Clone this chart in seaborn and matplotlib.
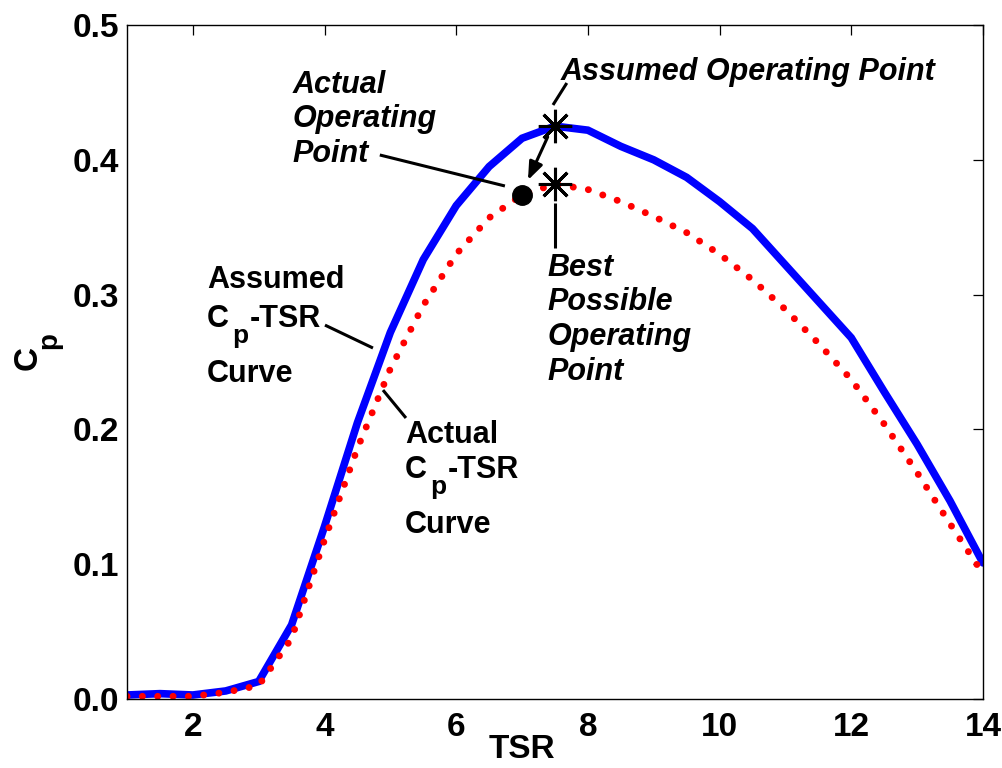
"""
Cp-TSR curves: assumed vs actual, with operating points marked.
"""
import matplotlib
matplotlib.use("Agg")
import matplotlib.pyplot as plt
import seaborn as sns

# data
tsr = [1.0, 1.5, 2.0, 2.5, 3.0, 3.5, 4.0, 4.5, 5.0, 5.5, 6.0, 6.5, 7.0, 7.5,
       8.0, 8.5, 9.0, 9.5, 10.0, 10.5, 11.0, 11.5, 12.0, 12.5, 13.0, 13.5, 14.0]
cp_assumed = [0.003, 0.004, 0.003, 0.006, 0.013, 0.055, 0.128, 0.205, 0.272,
              0.326, 0.366, 0.395, 0.416, 0.425, 0.422, 0.410, 0.400, 0.387,
              0.369, 0.349, 0.322, 0.295, 0.268, 0.228, 0.189, 0.147, 0.101]
cp_actual = [0.002, 0.002, 0.002, 0.005, 0.010, 0.045, 0.118, 0.186, 0.245,
             0.292, 0.330, 0.357, 0.374, 0.382, 0.378, 0.369, 0.358, 0.346,
             0.330, 0.311, 0.289, 0.264, 0.237, 0.204, 0.168, 0.130, 0.093]

star_tsr = [7.5, 7.5]
star_cp = [0.425, 0.382]
actual_op_tsr = [7.0]
actual_op_cp = [0.374]

sns.set_theme(style="white")
plt.rcParams["font.family"] = ["Liberation Sans", "DejaVu Sans"]
plt.rcParams["font.weight"] = "bold"
plt.rcParams["text.color"] = "black"
plt.rcParams["axes.labelcolor"] = "black"

fig = plt.figure(figsize=(10.03, 7.68), dpi=100)
ax = fig.add_axes([0.1266, 0.0898, 0.8534, 0.8776])

sns.lineplot(x=tsr, y=cp_assumed, ax=ax, color="#0000ff", linewidth=5.5,
             solid_joinstyle="miter")
sns.lineplot(x=tsr, y=cp_actual, ax=ax, color="#ff0000", linewidth=5,
             linestyle=(0, (0.01, 2.2)), dash_capstyle="round")

# operating points
ax.plot(star_tsr, star_cp, ls="none", marker=(8, 2, 0), markersize=24,
        markeredgewidth=2.2, color="black", zorder=5)
ax.plot(actual_op_tsr, actual_op_cp, ls="none", marker="o", markersize=14,
        color="black", zorder=5)

ax.set_xlim(1, 14)
ax.set_ylim(0, 0.5)
ax.set_xticks([2, 4, 6, 8, 10, 12, 14])
ax.set_yticks([0.0, 0.1, 0.2, 0.3, 0.4, 0.5])
ax.set_yticklabels(["0.0", "0.1", "0.2", "0.3", "0.4", "0.5"])
ax.tick_params(direction="in", length=7, width=0.9, top=True, right=True,
               labelsize=24, pad=6, colors="black")
ax.tick_params(axis="x", pad=9)
for lab in ax.get_xticklabels() + ax.get_yticklabels():
    lab.set_fontweight("bold")
for s in ax.spines.values():
    s.set_color("black")
    s.set_linewidth(1.0)

ax.set_xlabel("TSR", fontsize=24, fontweight="bold")
ax.xaxis.set_label_coords(0.461, -0.052)
# y label C_p, built by hand so the subscript sits low like the original
fig.text(37 / 1003, 1 - 370 / 768, "C", fontsize=24, fontweight="bold",
         rotation=90, rotation_mode="anchor", ha="left", va="baseline")
fig.text(56 / 1003, 1 - 349 / 768, "p", fontsize=20, fontweight="bold",
         rotation=90, rotation_mode="anchor", ha="left", va="baseline")

fs = 22
ital = dict(fontsize=fs, fontweight="bold", style="italic")
ax.text(7.58, 0.459, "Assumed Operating Point", va="baseline", **ital)
ax.text(3.52, 0.467, "Actual\nOperating\nPoint", va="top", **ital)
ax.text(7.39, 0.331, "Best\nPossible\nOperating\nPoint", va="top", **ital)

bold = dict(fontsize=fs, fontweight="bold", va="baseline", ha="left")
sub = dict(fontsize=19, fontweight="bold", va="baseline", ha="left")
# assumed Cp-TSR curve label
ax.text(2.215, 0.3049, "Assumed", **bold)
ax.text(2.215, 0.2760, "C", **bold)
ax.text(2.595, 0.2641, "p", **sub)
ax.text(2.868, 0.2760, "-TSR", **bold)
ax.text(2.215, 0.2352, "Curve", **bold)
# actual Cp-TSR curve label
ax.text(5.222, 0.1899, "Actual", **bold)
ax.text(5.222, 0.1639, "C", **bold)
ax.text(5.601, 0.1521, "p", **sub)
ax.text(5.875, 0.1639, "-TSR", **bold)
ax.text(5.222, 0.1231, "Curve", **bold)

# leader lines
lk = dict(color="black", lw=2.2, solid_capstyle="butt")
ax.plot([4.84, 6.74], [0.4036, 0.3806], **lk)
ax.plot([7.47, 7.68], [0.4407, 0.457], **lk)
ax.plot([7.5, 7.5], [0.368, 0.3346], **lk)
ax.plot([4.007, 4.736], [0.2774, 0.2604], **lk)
ax.plot([4.888, 5.237], [0.2292, 0.2085], **lk)
ax.annotate("", xy=(7.09, 0.385), xytext=(7.39, 0.417),
            arrowprops=dict(arrowstyle="-|>,head_length=0.9,head_width=0.35",
                            color="black", lw=2.2, shrinkA=0, shrinkB=0))

fig.savefig("out.png", dpi=100, facecolor="white")
